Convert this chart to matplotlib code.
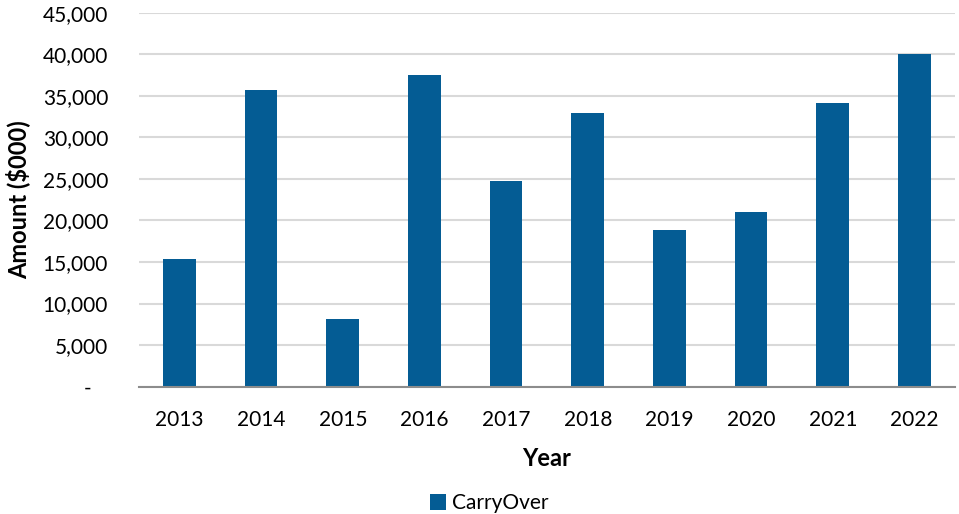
import matplotlib.pyplot as plt
from matplotlib.ticker import FuncFormatter

# данные для графика
years = ['2013', '2014', '2015', '2016', '2017', '2018', '2019', '2020', '2021', '2022']
carry_over = [15400, 35700, 8200, 37500, 24800, 32900, 18900, 21000, 34100, 40000]

bar_color = '#045c94'
plt.rcParams['font.family'] = ['Lato', 'DejaVu Sans']


def fmt_amount(val, pos):
    if val == 0:
        return '-   '
    return '{:,.0f}'.format(val)


fig = plt.figure(figsize=(9.59, 5.14), dpi=100)
ax = fig.add_axes([0.1446, 0.2477, 0.8515, 0.7276])

x = range(len(years))
ax.bar(x, carry_over, width=0.4, color=bar_color, label='CarryOver', zorder=3)

ax.set_xlim(-0.5, len(years) - 0.5)
ax.set_ylim(0, 45000)
ax.set_yticks(range(0, 45001, 5000))
ax.yaxis.set_major_formatter(FuncFormatter(fmt_amount))
ax.set_xticks(list(x))
ax.set_xticklabels(years)

ax.grid(axis='y', color='#d9d9d9', linewidth=1.5, zorder=0)
for side in ['top', 'right', 'left']:
    ax.spines[side].set_visible(False)
ax.spines['bottom'].set_color('#8c8c8c')
ax.spines['bottom'].set_linewidth(1.5)
ax.spines['bottom'].set_zorder(4)

ax.tick_params(axis='both', length=0, labelsize=15, colors='black')
ax.tick_params(axis='y', pad=22)
ax.tick_params(axis='x', pad=17)

ax.set_xlabel('Year', fontsize=17, fontweight='bold', labelpad=12)
ax.set_ylabel('Amount ($000)', fontsize=17, fontweight='bold', labelpad=9)

fig.legend(loc='lower center', bbox_to_anchor=(0.51, -0.035), frameon=False,
           fontsize=15, handlelength=0.75, handleheight=0.75, handletextpad=0.3)

fig.savefig('out.png', dpi=100)
